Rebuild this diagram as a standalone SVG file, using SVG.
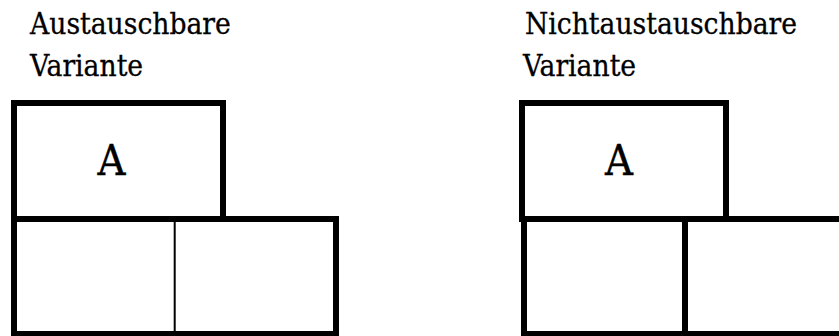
<svg xmlns="http://www.w3.org/2000/svg" width="839" height="336" viewBox="0 0 839 336">
<style>
.t{font-family:"DejaVu Serif","Liberation Serif",serif;font-stretch:condensed;font-size:29.6px;fill:#000;stroke:#000;stroke-width:0.3}
.a{font-family:"DejaVu Serif","Liberation Serif",serif;font-stretch:condensed;font-size:43px;fill:#000;stroke:#000;stroke-width:0.4;text-anchor:middle}
.b{fill:#fff;stroke:#000;stroke-width:6}
.d{stroke:#000;stroke-width:2}
</style>
<rect width="839" height="336" fill="#fff"/>
<g id="left">
  <g id="left-title">
    <text class="t" x="30" y="34">Austauschbare</text>
    <text class="t" x="30" y="76">Variante</text>
  </g>
  <g id="left-A">
    <rect class="b" x="14" y="103" width="209" height="116"/>
    <text class="a" x="111.5" y="175">A</text>
  </g>
  <g id="left-bottom">
    <rect class="b" x="14" y="219" width="322" height="115"/>
    <line class="d" x1="174.7" y1="222" x2="174.7" y2="331"/>
  </g>
</g>
<g id="right">
  <g id="right-title">
    <text class="t" x="525" y="34">Nichtaustauschbare</text>
    <text class="t" x="523" y="76">Variante</text>
  </g>
  <g id="right-A">
    <rect class="b" x="522" y="103" width="204" height="116"/>
    <text class="a" x="619" y="175">A</text>
  </g>
  <g id="right-bottom-left">
    <rect class="b" x="524" y="219" width="161" height="115"/>
  </g>
  <g id="right-bottom-right">
    <rect class="b" x="685" y="219" width="170" height="115"/>
  </g>
</g>
</svg>
